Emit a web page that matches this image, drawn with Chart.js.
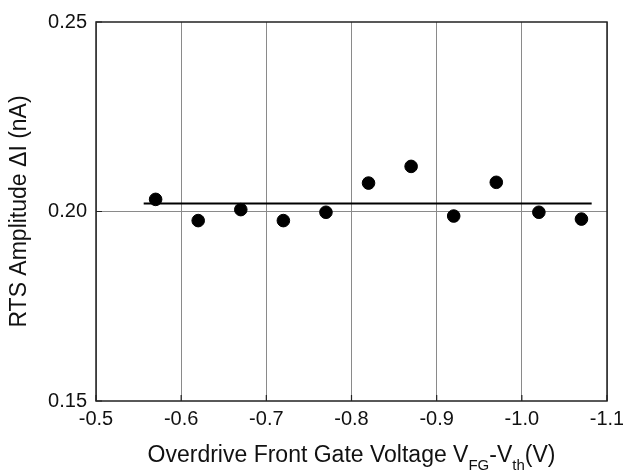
<!DOCTYPE html>
<html>
<head>
<meta charset="utf-8">
<script src="https://cdn.jsdelivr.net/npm/chart.js@4/dist/chart.umd.min.js"></script>
<style>
  html, body { margin: 0; padding: 0; background: #fff; }
  #wrap { width: 623px; height: 470px; position: relative; }
</style>
</head>
<body>
<div id="wrap"><canvas id="chart"></canvas></div>
<script>
// gate overdrive (V) and RTS amplitude (nA)
const overdrive = [-0.57, -0.62, -0.67, -0.72, -0.77, -0.82, -0.87, -0.92, -0.97, -1.02, -1.07];
const amplitude = [0.2032, 0.1976, 0.2005, 0.1976, 0.1998, 0.2075, 0.2119, 0.1988, 0.2077, 0.1998, 0.1980];

// mean level line
const fitRange = [-0.556, -1.082];
const fitLevel = 0.2021;

const xTicks = [-0.5, -0.6, -0.7, -0.8, -0.9, -1.0, -1.1];
const yTicks = [0.15, 0.20, 0.25];

const FONT = "'Liberation Sans', Arial, Helvetica, sans-serif";

// frame round the plot + short inner ticks
const framePlugin = {
    id: 'frame',
    beforeDatasetsDraw(chart) {
        const { ctx, chartArea: a, scales } = chart;
        ctx.save();
        ctx.strokeStyle = '#222';
        ctx.lineWidth = 1.5;
        ctx.strokeRect(a.left, a.top, a.right - a.left, a.bottom - a.top);
        ctx.lineWidth = 1.2;
        ctx.beginPath();
        xTicks.forEach(v => {
            const px = scales.x.getPixelForValue(v);
            ctx.moveTo(px, a.bottom);
            ctx.lineTo(px, a.bottom - 6);
        });
        yTicks.forEach(v => {
            const py = scales.y.getPixelForValue(v);
            ctx.moveTo(a.left, py);
            ctx.lineTo(a.left + 6, py);
        });
        ctx.stroke();
        ctx.restore();
    }
};

// x title needs subscripts, so it is drawn by hand
const xTitlePlugin = {
    id: 'xTitle',
    afterDraw(chart) {
        const { ctx, chartArea: a } = chart;
        const parts = [
            ['Overdrive Front Gate Voltage V', false],
            ['FG', true],
            ['-V', false],
            ['th', true],
            ['(V)', false],
        ];
        const big = '23px ' + FONT, small = '15px ' + FONT;
        ctx.save();
        let total = 0;
        parts.forEach(p => { ctx.font = p[1] ? small : big; total += ctx.measureText(p[0]).width; });
        let x = (a.left + a.right) / 2 - total / 2;
        const base = 462;
        ctx.fillStyle = '#111';
        ctx.textBaseline = 'alphabetic';
        ctx.textAlign = 'left';
        parts.forEach(p => {
            ctx.font = p[1] ? small : big;
            ctx.fillText(p[0], x, p[1] ? base + 8 : base);
            x += ctx.measureText(p[0]).width;
        });
        ctx.restore();
    }
};

const ctx = document.getElementById('chart').getContext('2d');
new Chart(ctx, {
    type: 'scatter',
    data: {
        datasets: [
            {
                type: 'scatter',
                data: overdrive.map((v, i) => ({ x: v, y: amplitude[i] })),
                backgroundColor: '#000',
                borderColor: '#000',
                pointRadius: 6.3,
                order: 0,
            },
            {
                type: 'line',
                data: fitRange.map(v => ({ x: v, y: fitLevel })),
                borderColor: '#000',
                borderWidth: 2,
                pointRadius: 0,
                fill: false,
                order: 1,
            },
        ],
    },
    options: {
        responsive: true,
        maintainAspectRatio: false,
        animation: false,
        layout: { padding: { top: 22, right: 16, left: 0, bottom: 0 } },
        plugins: { legend: { display: false }, tooltip: { enabled: false } },
        scales: {
            x: {
                type: 'linear',
                reverse: true,
                min: -1.1,
                max: -0.5,
                afterBuildTicks: s => { s.ticks = xTicks.map(v => ({ value: v })); },
                afterFit: s => { s.height = 69; s.paddingLeft = 0; s.paddingRight = 0; },
                grid: { color: '#8a8a8a', lineWidth: 1, drawTicks: false },
                border: { display: false },
                ticks: {
                    padding: 6,
                    color: '#111',
                    font: { family: FONT, size: 20 },
                    callback: v => v.toFixed(1),
                },
            },
            y: {
                type: 'linear',
                min: 0.15,
                max: 0.25,
                afterBuildTicks: s => { s.ticks = yTicks.map(v => ({ value: v })); },
                afterFit: s => { s.width = 96; s.paddingTop = 0; s.paddingBottom = 0; },
                grid: {
                    color: c => (c.tick && Math.abs(c.tick.value - 0.2) < 1e-6) ? '#8a8a8a' : 'rgba(0,0,0,0)',
                    lineWidth: 1,
                    drawTicks: false,
                },
                border: { display: false },
                ticks: {
                    padding: 9,
                    color: '#111',
                    font: { family: FONT, size: 20 },
                    callback: v => v.toFixed(2),
                },
                title: {
                    display: true,
                    text: 'RTS Amplitude \u0394I (nA)',
                    color: '#111',
                    font: { family: FONT, size: 23 },
                    padding: { top: 6, bottom: 0 },
                },
            },
        },
    },
    plugins: [framePlugin, xTitlePlugin],
});
</script>
</body>
</html>
